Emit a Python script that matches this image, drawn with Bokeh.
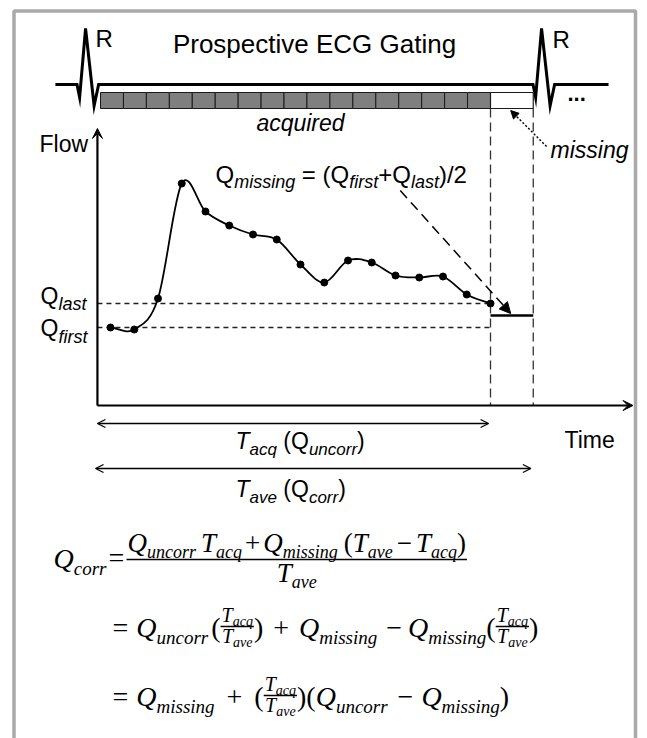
import numpy as np
from collections import defaultdict
from bokeh.plotting import figure
from bokeh.models import Range1d, Arrow, NormalHead, OpenHead, VeeHead, ColumnDataSource
from bokeh.core.properties import value
from bokeh.embed import file_html
from bokeh.resources import INLINE

# ---------------- data ----------------
frames = list(range(17))                      # acquired cardiac frames
flow = [39, 38, 53.5, 111, 97, 90, 85.5, 83, 70.5, 61.5, 72.5, 71.5, 65, 64, 64.5, 55.5, 51]
q_first = flow[0]
q_last = flow[-1]
q_missing = (q_first + q_last) / 2
n_acquired = len(frames)
t_axis = -0.55          # time origin of the flow axes (frame units)
t_rr_end = 17.8         # end of the R-R interval (frame units)
bar_t_start = -0.42     # start of the acquisition bar
r_peaks_t = [-1.05, 18.15]
ecg_t_start, ecg_t_end = -2.32, 20.97
qrs_dt = [-0.36, -0.25, 0.0, 0.36, 0.55]
qrs_mv = [0.0, -0.23, 1.0, -0.38, 0.0]

# ---------------- layout ----------------
W, H = 647, 738
PX0, PXF = 110.0, 23.75     # pixel x of frame 0, pixels per frame
PY0, PYF = 405.0, 2.0       # pixel y of zero flow, pixels per flow unit
EY0, EYF = 84.0, 56.0       # pixel y of ECG baseline, pixels per mV
KB = 0.38                   # baseline correction (fraction of font size)

p = figure(width=W, height=H, x_range=Range1d(0, W), y_range=Range1d(H, 0),
           output_backend="svg", toolbar_location=None,
           x_axis_location=None, y_axis_location=None, min_border=0,
           outline_line_color=None, background_fill_color="white",
           border_fill_color="white")
p.grid.visible = False
p.extra_x_ranges = {"t": Range1d((0 - PX0) / PXF, (W - PX0) / PXF)}
p.extra_y_ranges = {"flow": Range1d((PY0 - H) / PYF, PY0 / PYF),
                    "ecg": Range1d((EY0 - H) / EYF, EY0 / EYF)}

# frame border
BC = "#a9a9a9"
p.line([13.5, 13.5, 635, 635], [745, 10.5, 10.5, 745], line_color=BC, line_width=3.5)

# ECG trace
ecg_t = [ecg_t_start] + [r_peaks_t[0] + d for d in qrs_dt] + [r_peaks_t[1] + d for d in qrs_dt] + [ecg_t_end]
ecg_v = [0.0] + qrs_mv + qrs_mv + [0.0]
p.line(ecg_t, ecg_v, x_range_name="t", y_range_name="ecg", line_color="black",
       line_width=3, line_join="miter")

# acquisition bar
edges = np.linspace(bar_t_start, frames[-1], n_acquired + 1)
p.quad(left=edges[:-1], right=edges[1:], top=92, bottom=108, fill_color="#7f7f7f",
       line_color="#1a1a1a", line_width=1, x_range_name="t")
p.quad(left=[frames[-1]], right=[t_rr_end], top=92, bottom=108, fill_color="white",
       line_color="#1a1a1a", line_width=1.2, x_range_name="t")

# vertical dashed boundaries
p.segment(x0=[frames[-1], t_rr_end], y0=[108, 108], x1=[frames[-1], t_rr_end], y1=[PY0, PY0],
          x_range_name="t", line_color="#333333", line_width=1.3, line_dash="9 5")

# axes
p.add_layout(Arrow(x_start=t_axis, y_start=0, x_end=t_axis, y_end=138.5,
                   x_range_name="t", y_range_name="flow", line_width=2.2,
                   end=VeeHead(size=10, fill_color="black", line_color="black")))
p.add_layout(Arrow(x_start=t_axis, y_start=0, x_end=22.0, y_end=0,
                   x_range_name="t", y_range_name="flow", line_width=2.2,
                   end=VeeHead(size=10, fill_color="black", line_color="black")))

# Q_first / Q_last dashed levels and missing level
p.segment(x0=[t_axis, t_axis], y0=[q_last, q_first], x1=[frames[-1], frames[-1]], y1=[q_last, q_first],
          x_range_name="t", y_range_name="flow", line_color="#222222", line_width=1.3, line_dash="5 4")
p.segment(x0=[frames[-1]], y0=[q_missing], x1=[t_rr_end], y1=[q_missing],
          x_range_name="t", y_range_name="flow", line_color="black", line_width=2.6)

# smooth flow curve (Catmull-Rom through the samples)
fx = np.array(frames, float)
fy = np.array(flow, float)
n = len(fx)
mx = np.zeros(n)
my = np.zeros(n)
for i in range(n):
    a, b = max(i - 1, 0), min(i + 1, n - 1)
    mx[i] = (fx[b] - fx[a]) / (b - a)
    my[i] = (fy[b] - fy[a]) / (b - a)
p.bezier(x0=fx[:-1], y0=fy[:-1], x1=fx[1:], y1=fy[1:],
         cx0=fx[:-1] + mx[:-1] / 3, cy0=fy[:-1] + my[:-1] / 3,
         cx1=fx[1:] - mx[1:] / 3, cy1=fy[1:] - my[1:] / 3,
         x_range_name="t", y_range_name="flow", line_color="black", line_width=1.8)
p.scatter(fx, fy, size=7, color="black", x_range_name="t", y_range_name="flow")

# annotation arrows
p.add_layout(Arrow(x_start=12.2, y_start=107.5, x_end=16.85, y_end=q_missing + 1,
                   x_range_name="t", y_range_name="flow", line_width=1.5, line_dash="10 6",
                   end=NormalHead(size=11, fill_color="black", line_color="black")))
p.add_layout(Arrow(x_start=18.36, y_start=146, x_end=16.85, y_end=110,
                   x_range_name="t", line_width=1.5, line_dash="2 2",
                   end=NormalHead(size=8, fill_color="black", line_color="black")))
p.add_layout(Arrow(x_start=t_axis, y_start=423, x_end=15.92, y_end=423, x_range_name="t",
                   line_width=1.3, start=OpenHead(size=8, line_width=1.3), end=OpenHead(size=8, line_width=1.3)))
p.add_layout(Arrow(x_start=t_axis - 0.08, y_start=468, x_end=t_rr_end - 0.1, y_end=468, x_range_name="t",
                   line_width=1.3, start=OpenHead(size=8, line_width=1.3), end=OpenHead(size=8, line_width=1.3)))

# ---------------- text ----------------
SANS = "Liberation Sans"
SERIF = "Liberation Serif"
AR = {' ': 278, '(': 333, ')': 333, '+': 584, '/': 278, '=': 584, '.': 278, '2': 556,
      'A': 667, 'B': 667, 'C': 722, 'D': 722, 'E': 667, 'F': 611, 'G': 778, 'H': 722, 'I': 278,
      'P': 667, 'Q': 778, 'R': 722, 'T': 611,
      'a': 556, 'b': 556, 'c': 500, 'd': 556, 'e': 556, 'f': 278, 'g': 556, 'h': 556, 'i': 222,
      'l': 222, 'm': 833, 'n': 556, 'o': 556, 'p': 556, 'q': 556, 'r': 333, 's': 500, 't': 278,
      'u': 556, 'v': 500, 'w': 722}
TI = {'Q': 722, 'T': 556, 'a': 500, 'c': 444, 'e': 444, 'g': 500, 'i': 278, 'm': 722, 'n': 500,
      'o': 500, 'q': 500, 'r': 389, 's': 389, 'u': 500, 'v': 444}
TR = {'=': 564, '+': 564, '\u2212': 564, '(': 333, ')': 333, ' ': 250}


def tw(s, table, size):
    return sum(table.get(c, 500) for c in s) * size / 1000.0


groups = defaultdict(lambda: {"x": [], "y": [], "text": []})


def add(x, y, text, font, size, style="normal", align="left"):
    lead = len(text) - len(text.lstrip(" "))
    x = x + lead * 0.278 * size
    text = text.strip(" ")
    if not text:
        return
    g = groups[(font, size, style, align)]
    g["x"].append(x)
    g["y"].append(y - KB * size)
    g["text"].append(text)


def sans_rich(x, base, parts, main=23, sub=17, drop=6):
    cx = x
    for txt, kind in parts:
        if kind == "s":
            add(cx, base + drop, txt, SANS, sub, "italic")
            cx += tw(txt, AR, sub)
        else:
            add(cx, base, txt, SANS, main, "italic" if kind == "mi" else "normal")
            cx += tw(txt, AR, main)
    return cx


bars = []


def math_width(parts, m, s):
    w = 0.0
    for part in parts:
        txt, kind = part[0], part[1]
        if kind == "v":
            w += tw(txt, TI, m)
        elif kind == "s":
            w += tw(txt, TI, s)
        elif kind == "o":
            w += tw(txt, TR, m)
        elif kind == "sp":
            w += txt
    return w


def fraction(x, axis, num, den, m, s, drop, gap_num, gap_den, pad=1.0):
    wn, wd = math_width(num, m, s), math_width(den, m, s)
    w = max(wn, wd) + 2 * pad
    math_run(x + (w - wn) / 2, axis - gap_num, num, m, s, drop)
    math_run(x + (w - wd) / 2, axis + gap_den, den, m, s, drop)
    bars.append((x, x + w, axis))
    return x + w


def math_run(x, base, parts, m=28, s=19, drop=6):
    cx = x
    for part in parts:
        kind = part[1]
        if kind == "v":
            add(cx, base, part[0], SERIF, m, "italic")
            cx += tw(part[0], TI, m)
        elif kind == "s":
            add(cx, base + drop, part[0], SERIF, s, "italic")
            cx += tw(part[0], TI, s)
        elif kind == "o":
            add(cx, base, part[0], SERIF, m, "normal")
            cx += tw(part[0], TR, m)
        elif kind == "sp":
            cx += part[0]
        elif kind == "frac":
            cx = fraction(cx, base - 12, part[2], part[3], 20, 14, 4, 4, 17)
    return cx


# top labels
add(314, 53, "Prospective ECG Gating", SANS, 26, "normal", "center")
add(95, 47, "R", SANS, 24)
add(552, 48, "R", SANS, 24)
add(567, 101, "...", SANS, 22, "bold")
add(300, 131, "acquired", SANS, 23, "italic", "center")
add(550, 158, "missing", SANS, 23, "italic")
add(39, 152, "Flow", SANS, 23)
add(564, 448, "Time", SANS, 23)

sans_rich(40, 304, [("Q", "m"), ("last", "s")], 23, 18, 6)
sans_rich(40, 336, [("Q", "m"), ("first", "s")], 23, 18, 7)
sans_rich(215, 183, [("Q", "m"), ("missing", "s"), (" = (", "m"), ("Q", "m"), ("first", "s"),
                     ("+", "m"), ("Q", "m"), ("last", "s"), (")/2", "m")], 24, 18, 5)
sans_rich(235, 449, [("T", "mi"), ("acq", "s"), (" (Q", "m"), ("uncorr", "s"), (")", "m")], 23, 17, 6)
sans_rich(235, 497, [("T", "mi"), ("ave", "s"), (" (Q", "m"), ("corr", "s"), (")", "m")], 23, 17, 6)

# equations
MINUS = "\u2212"
math_run(53, 569, [("Q", "v"), ("corr", "s")])
add(108, 568, "=", SERIF, 28)
fraction(126, 559,
         [("Q", "v"), ("uncorr", "s"), (5, "sp"), ("T", "v"), ("acq", "s"), (3, "sp"), ("+", "o"),
          (3, "sp"), ("Q", "v"), ("missing", "s"), (6, "sp"), ("(", "o"), ("T", "v"), ("ave", "s"),
          (4, "sp"), (MINUS, "o"), (4, "sp"), ("T", "v"), ("acq", "s"), (")", "o")],
         [("T", "v"), ("ave", "s")], 27, 18, 5, 6, 24)

FR = ("", "frac", [("T", "v"), ("acq", "s")], [("T", "v"), ("ave", "s")])
math_run(112, 638, [("=", "o"), (8, "sp"), ("Q", "v"), ("uncorr", "s"), (3, "sp"), ("(", "o"), FR,
                    (")", "o"), (10, "sp"), ("+", "o"), (10, "sp"), ("Q", "v"), ("missing", "s"),
                    (9, "sp"), (MINUS, "o"), (6, "sp"), ("Q", "v"), ("missing", "s"), ("(", "o"), FR,
                    (")", "o")])
math_run(112, 707, [("=", "o"), (8, "sp"), ("Q", "v"), ("missing", "s"), (12, "sp"), ("+", "o"),
                    (12, "sp"), ("(", "o"), FR, (")", "o"), ("(", "o"), ("Q", "v"), ("uncorr", "s"),
                    (10, "sp"), (MINUS, "o"), (8, "sp"), ("Q", "v"), ("missing", "s"), (")", "o")])

p.segment(x0=[b[0] for b in bars], y0=[b[2] for b in bars], x1=[b[1] for b in bars],
          y1=[b[2] for b in bars], line_color="black", line_width=1.4)

for (font, size, style, align), d in groups.items():
    p.text(x="x", y="y", text="text", source=ColumnDataSource(d),
           text_font=value(font), text_font_size=value(f"{size}px"),
           text_font_style=value(style), text_align=value(align),
           text_baseline=value("alphabetic"), text_color="black")

open("out.html", "w").write(file_html(p, INLINE))
